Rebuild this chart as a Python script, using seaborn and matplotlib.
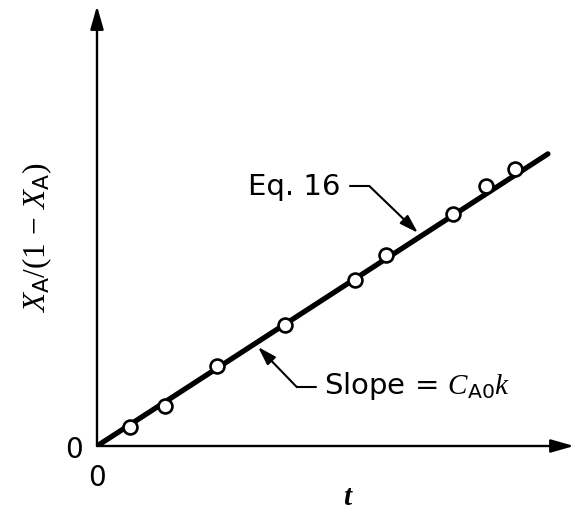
import matplotlib
matplotlib.use("Agg")
import matplotlib.pyplot as plt
import seaborn as sns
import numpy as np
import pandas as pd

# data (arbitrary units)
t_pts = [0.73, 1.51, 2.67, 4.18, 5.73, 6.42, 7.91, 8.64, 9.29]
y_pts = [0.42, 0.89, 1.78, 2.69, 3.69, 4.24, 5.16, 5.78, 6.16]
t_line = [0.0, 10.02]
slope = 0.648
y_line = [slope * v for v in t_line]
x_max, y_max = 10.60, 9.78

sns.set_theme(style="white")
plt.rcParams['font.family'] = ['DejaVu Sans']
plt.rcParams['text.color'] = 'black'
plt.rcParams['xtick.color'] = 'black'
plt.rcParams['ytick.color'] = 'black'
plt.rcParams['mathtext.rm'] = 'Liberation Serif'
plt.rcParams['mathtext.it'] = 'Liberation Serif:italic'
plt.rcParams['mathtext.bf'] = 'Liberation Serif:bold'
plt.rcParams['mathtext.sf'] = 'DejaVu Sans'

fig = plt.figure(figsize=(5.76, 5.10), dpi=100)
ax = fig.add_axes([97/576, 63/510, 477/576, 440/510])

df_line = pd.DataFrame({"t": t_line, "y": y_line})
df_pts = pd.DataFrame({"t": t_pts, "y": y_pts})
sns.lineplot(data=df_line, x="t", y="y", ax=ax, color="black", lw=3.8, zorder=2)
sns.scatterplot(data=df_pts, x="t", y="y", ax=ax, s=100, facecolor="white",
                edgecolor="black", linewidth=1.9, zorder=3)

ax.set_xlim(0, x_max)
ax.set_ylim(0, y_max)
for s in ax.spines.values():
    s.set_visible(False)

# axis arrows
arrow_kw = dict(arrowstyle='-|>,head_length=0.7,head_width=0.2', mutation_scale=20,
                lw=1.7, color='black', shrinkA=0, shrinkB=0)
ax.annotate('', xy=(1, 0), xytext=(0, 0), xycoords='axes fraction',
            arrowprops=arrow_kw, annotation_clip=False)
ax.annotate('', xy=(0, 1), xytext=(0, 0), xycoords='axes fraction',
            arrowprops=arrow_kw, annotation_clip=False)

ax.set_xticks([0])
ax.set_xticklabels(["0"], fontsize=20)
ax.set_yticks([0])
ax.set_yticklabels(["0"], fontsize=20)
ax.tick_params(axis='x', length=0, pad=12)
ax.tick_params(axis='y', length=0, pad=10)
ax.grid(False)
ax.set_xlabel("")
ax.set_ylabel("")

ax.text(0.525, -0.115, "t", transform=ax.transAxes, fontsize=21,
        family='Liberation Serif', style='italic', weight='bold',
        ha='center', va='center')
ax.text(-0.125, 0.475, r"$X_{\mathsf{A}}/(1\,-\,X_{\mathsf{A}})$",
        transform=ax.transAxes, fontsize=22.5, math_fontfamily='custom',
        rotation=90, ha='center', va='center')

small_arrow = dict(arrowstyle='-|>,head_length=0.7,head_width=0.22', mutation_scale=16,
                   lw=1.5, color='black', shrinkA=0, shrinkB=0)

# Eq. 16 annotation
t_tip1 = 7.13
ax.plot([5.62, 6.05], [5.78, 5.78], color='black', lw=1.5)
ax.annotate('', xy=(t_tip1, slope * t_tip1 + 0.12), xytext=(6.05, 5.78),
            arrowprops=small_arrow)
ax.text(5.42, 5.78, "Eq. 16", fontsize=21, ha='right', va='center')

# Slope annotation
t_tip2 = 3.58
ax.plot([4.44, 4.87], [1.31, 1.31], color='black', lw=1.5)
ax.annotate('', xy=(t_tip2, slope * t_tip2 - 0.12), xytext=(4.44, 1.31),
            arrowprops=small_arrow)
ax.text(5.05, 1.35, r"Slope = $C_{\mathsf{A0}}k$", fontsize=21, ha='left',
        va='center', math_fontfamily='custom')

fig.savefig("out.png", dpi=100)
